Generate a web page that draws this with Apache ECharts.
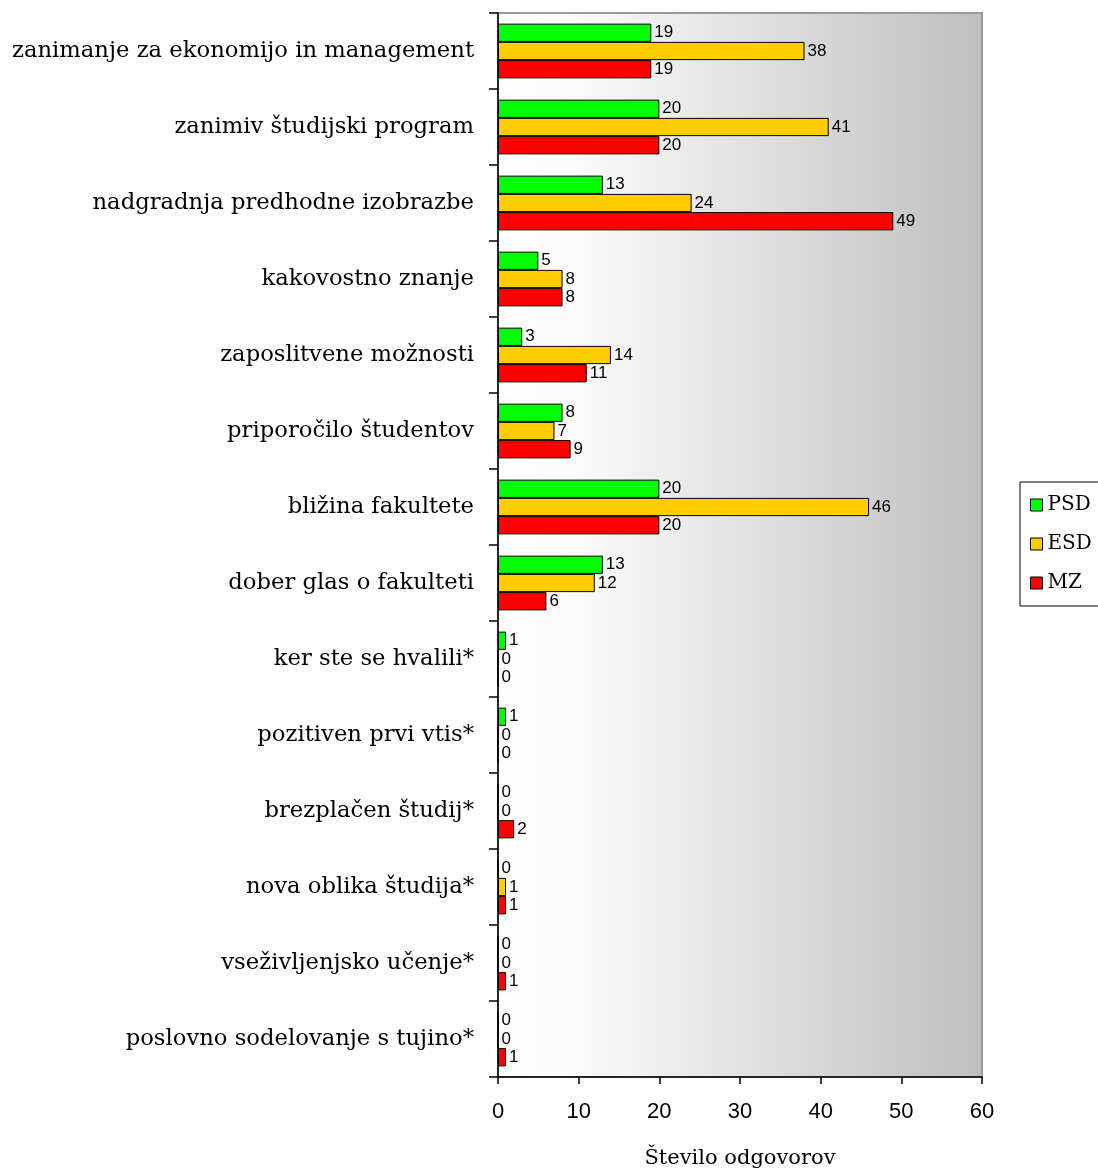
<!DOCTYPE html>
<html>
<head>
<meta charset="utf-8">
<script src="https://cdn.jsdelivr.net/npm/echarts@6/dist/echarts.min.js"></script>
<style>
  html, body { margin: 0; padding: 0; background: #fff; }
  #chart { width: 1098px; height: 1171px; }
</style>
</head>
<body>
<div id="chart"></div>
<script>
/* reasons for choosing the faculty */
var categories = [
    'zanimanje za ekonomijo in management',
    'zanimiv študijski program',
    'nadgradnja predhodne izobrazbe',
    'kakovostno znanje',
    'zaposlitvene možnosti',
    'priporočilo študentov',
    'bližina fakultete',
    'dober glas o fakulteti',
    'ker ste se hvalili*',
    'pozitiven prvi vtis*',
    'brezplačen študij*',
    'nova oblika študija*',
    'vseživljenjsko učenje*',
    'poslovno sodelovanje s tujino*'
];
var psd = [19, 20, 13, 5, 3, 8, 20, 13, 1, 1, 0, 0, 0, 0];
var esd = [38, 41, 24, 8, 14, 7, 46, 12, 0, 0, 0, 1, 0, 0];
var mz  = [19, 20, 49, 8, 11, 9, 20, 6, 0, 0, 2, 1, 1, 1];
var xTicks = [0, 10, 20, 30, 40, 50, 60];

var myChart = echarts.init(document.getElementById('chart'));

function barSeries(name, data, color) {
    return {
        name: name,
        type: 'bar',
        data: data,
        barGap: '0%',
        barCategoryGap: '28%',
        itemStyle: { color: color, borderColor: '#000', borderWidth: 1 },
        label: {
            show: true,
            position: 'right',
            distance: 3,
            color: '#000',
            fontFamily: 'Liberation Sans',
            fontSize: 17
        }
    };
}

var option = {
    animation: false,
    backgroundColor: '#fff',
    grid: {
        left: 498, top: 13, right: 116, bottom: 94,
        outerBoundsMode: 'none',
        containLabel: false,
        show: true,
        borderColor: '#999',
        borderWidth: 2,
        backgroundColor: {
            type: 'linear', x: 0, y: 0, x2: 1, y2: 0,
            colorStops: [
                { offset: 0, color: '#ffffff' },
                { offset: 0.15, color: '#fbfbfb' },
                { offset: 1, color: '#bfbfbf' }
            ]
        }
    },
    legend: {
        orient: 'vertical',
        left: 1020, top: 482,
        data: ['PSD', 'ESD', 'MZ'],
        icon: 'rect',
        itemWidth: 12, itemHeight: 12,
        itemGap: 19,
        padding: [13, 10, 13, 10],
        borderColor: '#000',
        borderWidth: 1,
        backgroundColor: '#fff',
        itemStyle: { borderColor: '#000', borderWidth: 1 },
        textStyle: { fontFamily: 'DejaVu Serif', fontSize: 20, color: '#000', padding: [0, 0, 0, 0] }
    },
    xAxis: {
        type: 'value',
        min: xTicks[0], max: xTicks[xTicks.length - 1], interval: 10,
        name: 'Število odgovorov',
        nameLocation: 'middle',
        nameGap: 71,
        nameTextStyle: { fontFamily: 'DejaVu Serif', fontSize: 21, color: '#000' },
        axisLine: { show: true, lineStyle: { color: '#000', width: 1.5 } },
        axisTick: { show: true, length: 7, lineStyle: { color: '#000', width: 1.5 } },
        axisLabel: { margin: 24, fontFamily: 'Liberation Sans', fontSize: 22, color: '#000' },
        splitLine: { show: false }
    },
    yAxis: {
        type: 'category',
        data: categories,
        inverse: true,
        axisLine: { show: true, lineStyle: { color: '#000', width: 1.5 } },
        axisTick: { show: true, length: 9, lineStyle: { color: '#000', width: 1.5 } },
        axisLabel: { margin: 24, fontFamily: 'DejaVu Serif', fontSize: 22.7, color: '#000' },
        splitLine: { show: false }
    },
    series: [
        barSeries('PSD', psd, '#00ff00'),
        barSeries('ESD', esd, '#ffcc00'),
        barSeries('MZ', mz, '#ff0000')
    ]
};

myChart.setOption(option);
</script>
</body>
</html>
